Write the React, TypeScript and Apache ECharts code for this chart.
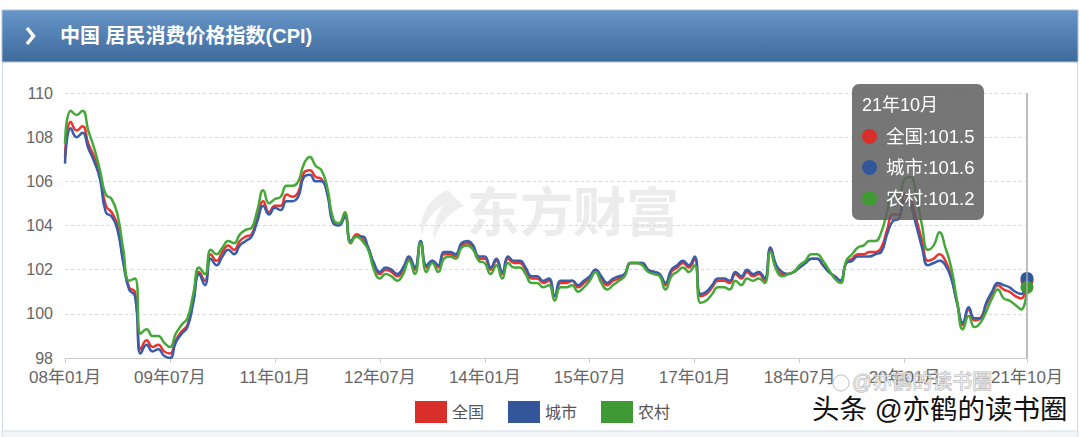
import React, { useEffect, useRef } from "react";
import * as echarts from "echarts";

// ---------- data ----------
const startYear = 2008;
const monthCount = 166; // 2008-01 .. 2021-10
const categories: string[] = [];
for (let i = 0; i < monthCount; i++) {
  const y = startYear + Math.floor(i / 12);
  const m = (i % 12) + 1;
  categories.push(`${String(y % 100).padStart(2, "0")}年${String(m).padStart(2, "0")}月`);
}

const seriesNames = ["全国", "城市", "农村"];

const national = [
  107.1, 108.7, 108.3, 108.5, 107.7, 107.1, 106.3, 104.9, 104.6, 104.0, 102.4, 101.2,
  101.0, 98.4, 98.8, 98.5, 98.6, 98.3, 98.2, 98.8, 99.2, 99.5, 100.6, 101.9,
  101.5, 102.7, 102.4, 102.8, 103.1, 102.9, 103.3, 103.5, 103.6, 104.4, 105.1, 104.6,
  104.9, 104.9, 105.4, 105.3, 105.5, 106.4, 106.5, 106.2, 106.1, 105.5, 104.2, 104.1,
  104.5, 103.2, 103.6, 103.4, 103.0, 102.2, 101.8, 102.0, 101.9, 101.7, 102.0, 102.5,
  102.0, 103.2, 102.1, 102.4, 102.1, 102.7, 102.7, 102.6, 103.1, 103.2, 103.0, 102.5,
  102.5, 102.0, 102.4, 101.8, 102.5, 102.3, 102.3, 102.0, 101.6, 101.6, 101.4, 101.5,
  100.8, 101.4, 101.4, 101.5, 101.2, 101.4, 101.6, 102.0, 101.6, 101.3, 101.5, 101.6,
  101.8, 102.3, 102.3, 102.3, 102.0, 101.9, 101.8, 101.3, 101.9, 102.1, 102.3, 102.1,
  102.5, 100.8, 100.9, 101.2, 101.5, 101.5, 101.4, 101.8, 101.6, 101.9, 101.7, 101.8,
  101.5, 102.9, 102.1, 101.8, 101.8, 101.9, 102.1, 102.3, 102.5, 102.5, 102.2, 101.9,
  101.7, 101.5, 102.3, 102.5, 102.7, 102.7, 102.8, 102.8, 103.0, 103.8, 104.5, 104.5,
  105.4, 105.2, 104.3, 103.3, 102.4, 102.5, 102.7, 102.4, 101.7, 100.5, 99.5, 100.2,
  99.7, 99.8, 100.4, 100.9, 101.3, 101.1, 101.0, 100.8, 100.7, 101.5,
];

const urban = [
  106.8, 108.4, 108.0, 108.2, 107.5, 106.9, 106.1, 104.6, 104.4, 103.8, 102.3, 101.1,
  100.8, 98.2, 98.6, 98.3, 98.4, 98.1, 98.0, 98.7, 99.1, 99.4, 100.5, 101.8,
  101.3, 102.5, 102.2, 102.6, 102.9, 102.7, 103.1, 103.3, 103.5, 104.2, 104.9, 104.5,
  104.8, 104.7, 105.1, 105.1, 105.3, 106.2, 106.3, 106.0, 106.0, 105.4, 104.1, 104.0,
  104.4, 103.3, 103.5, 103.5, 103.0, 102.3, 101.9, 102.1, 102.0, 101.8, 102.1, 102.6,
  102.1, 103.3, 102.2, 102.4, 102.2, 102.8, 102.8, 102.7, 103.2, 103.3, 103.1, 102.6,
  102.6, 102.1, 102.5, 101.9, 102.6, 102.4, 102.4, 102.1, 101.7, 101.7, 101.5, 101.6,
  100.8, 101.5, 101.5, 101.5, 101.3, 101.5, 101.7, 102.0, 101.7, 101.4, 101.6, 101.7,
  101.8, 102.3, 102.3, 102.3, 102.0, 101.9, 101.8, 101.4, 102.0, 102.2, 102.4, 102.2,
  102.6, 100.9, 101.0, 101.3, 101.6, 101.6, 101.5, 101.9, 101.7, 102.0, 101.8, 101.9,
  101.6, 103.0, 102.2, 101.9, 101.8, 101.9, 102.1, 102.3, 102.5, 102.5, 102.2, 101.9,
  101.7, 101.5, 102.3, 102.4, 102.6, 102.6, 102.6, 102.7, 102.8, 103.6, 104.2, 104.3,
  105.1, 104.9, 104.0, 103.0, 102.2, 102.3, 102.4, 102.2, 101.6, 100.5, 99.6, 100.3,
  99.8, 99.8, 100.5, 101.0, 101.4, 101.3, 101.2, 101.0, 100.9, 101.6,
];

const rural = [
  107.7, 109.2, 109.0, 109.2, 108.3, 107.5, 106.5, 105.4, 105.2, 104.5, 102.9, 101.5,
  101.6, 99.1, 99.3, 99.0, 99.0, 98.7, 98.5, 99.1, 99.5, 99.8, 100.9, 102.1,
  101.8, 102.9, 102.7, 103.0, 103.3, 103.2, 103.6, 103.8, 103.9, 104.7, 105.6, 105.0,
  105.2, 105.3, 105.8, 105.8, 106.0, 106.8, 107.1, 106.7, 106.5, 105.7, 104.3, 104.1,
  104.6, 103.2, 103.5, 103.3, 102.9, 102.0, 101.6, 101.8, 101.7, 101.5, 101.8, 102.4,
  101.8, 103.2, 101.9, 102.3, 101.9, 102.5, 102.6, 102.5, 103.0, 103.1, 102.9, 102.4,
  102.3, 101.8, 102.2, 101.6, 102.3, 102.1, 102.1, 101.8, 101.4, 101.4, 101.2, 101.3,
  100.6, 101.2, 101.2, 101.3, 101.0, 101.2, 101.5, 101.9, 101.4, 101.1, 101.3, 101.5,
  101.7, 102.3, 102.3, 102.2, 101.9, 101.8, 101.7, 101.1, 101.7, 101.9, 102.1, 101.9,
  102.2, 100.5, 100.6, 100.9, 101.2, 101.2, 101.1, 101.5, 101.3, 101.6, 101.5, 101.6,
  101.4, 102.8, 102.0, 101.7, 101.8, 101.9, 102.2, 102.4, 102.7, 102.7, 102.4, 102.0,
  101.6, 101.4, 102.4, 102.7, 103.0, 103.1, 103.3, 103.3, 103.7, 104.6, 105.5, 105.3,
  106.1, 106.2, 105.4, 104.0, 102.9, 103.1, 103.7, 103.0, 102.1, 100.6, 99.3, 99.9,
  99.4, 99.6, 100.1, 100.7, 101.1, 100.7, 100.6, 100.4, 100.2, 101.2,
];

const yTicks = { min: 98, max: 110, interval: 2 };
const titleText = "中国 居民消费价格指数(CPI)";
const watermarkText = "东方财富";
const signatureText = "头条 @亦鹤的读书圈";
const faintSignature = "@亦鹤的读书圈";

const colors = ["#d92e29", "#33569a", "#3f9a34"];
const FONT = '"Liberation Sans", "Noto Sans CJK SC", sans-serif';

let shapeRegistered = false;
function registerLogo() {
  if (shapeRegistered) return;
  shapeRegistered = true;
  echarts.graphic.registerShape(
    "emLogo",
    (echarts.graphic as any).extendPath(
      "M34 0 C16 8 4 24 8 46 C10 34 18 22 30 14 C22 26 18 38 20 50 C26 32 38 20 50 16 C44 10 38 6 34 0 Z",
      {}
    )
  );
}

export default function App() {
  const ref = useRef<HTMLDivElement>(null);

  useEffect(() => {
    if (!ref.current) return;
    document.body.style.margin = "0";
    registerLogo();
    const chart = echarts.init(ref.current, undefined, { renderer: "svg" });
    const lastIdx = monthCount - 1;
    const showIdx = (i: number) => (i % 18 === 0 && i <= 144) || i === lastIdx;
    const datasets = [national, urban, rural];

    chart.setOption({
      animation: false,
      backgroundColor: "#ffffff",
      textStyle: { fontFamily: FONT },
      grid: { left: 65, right: 53, top: 93, bottom: 79, containLabel: false },
      legend: {
        data: seriesNames,
        left: 410,
        top: 396,
        icon: "rect",
        itemWidth: 32,
        itemHeight: 22,
        itemGap: 24,
        textStyle: { fontSize: 16, color: "#555", fontFamily: FONT },
      },
      tooltip: {
        trigger: "axis",
        triggerOn: "none",
        alwaysShowContent: true,
        position: [852, 84],
        backgroundColor: "rgba(96,96,96,0.86)",
        borderWidth: 0,
        padding: [6, 10],
        extraCssText: "box-shadow:none;border-radius:7px;",
        textStyle: { color: "#fff", fontSize: 18, fontFamily: FONT },
        axisPointer: {
          type: "line",
          lineStyle: { color: "#a8a8a8", width: 1.5, type: "solid" },
        },
        formatter: (params: any) => {
          const ps = Array.isArray(params) ? params : [params];
          let s = `<div style="line-height:31px;font-size:18px">${ps[0].axisValue}</div>`;
          ps.forEach((p: any) => {
            s += `<div style="line-height:31px;font-size:18.5px;white-space:nowrap"><span style="display:inline-block;width:15px;height:15px;border-radius:8px;background:${p.color};margin-right:9px;vertical-align:-1px"></span>${p.seriesName}:${p.value}</div>`;
          });
          return s;
        },
      },
      xAxis: {
        type: "category",
        data: categories,
        boundaryGap: false,
        axisLine: { lineStyle: { color: "#cccccc", width: 1 } },
        axisTick: { interval: showIdx, length: 5, lineStyle: { color: "#cccccc" } },
        axisLabel: {
          interval: showIdx,
          color: "#666",
          fontSize: 17,
          margin: 11,
          fontFamily: FONT,
        },
        splitLine: { show: false },
      },
      yAxis: {
        type: "value",
        min: yTicks.min,
        max: yTicks.max,
        interval: yTicks.interval,
        axisLine: { show: false },
        axisTick: { show: false },
        axisLabel: { color: "#666", fontSize: 16, margin: 12, fontFamily: FONT },
        splitLine: { lineStyle: { color: "#d8d8d8", type: [3, 3], width: 1 } },
      },
      series: seriesNames.map((name, k) => ({
        name,
        type: "line",
        data: datasets[k],
        smooth: true,
        showSymbol: false,
        symbol: "circle",
        symbolSize: 13,
        color: colors[k],
        lineStyle: { width: 2.5, color: colors[k] },
        itemStyle: { color: colors[k] },
        emphasis: { scale: false, lineStyle: { width: 2.5 } },
        z: 3 + k,
      })),
      graphic: [
        {
          type: "rect",
          shape: { x: 2, y: 10, width: 1076, height: 52 },
          style: {
            fill: {
              type: "linear",
              x: 0,
              y: 0,
              x2: 0,
              y2: 1,
              colorStops: [
                { offset: 0, color: "#6795c8" },
                { offset: 1, color: "#3e6a9c" },
              ],
            } as any,
            stroke: "#aebfd3",
            lineWidth: 1,
          },
          z: 1,
        },
        {
          type: "polyline",
          shape: { points: [[27, 28], [33.5, 36], [27, 44]] },
          style: { stroke: "#ffffff", lineWidth: 3.5, fill: null },
          z: 2,
        },
        {
          type: "text",
          x: 60,
          y: 36,
          style: {
            text: titleText,
            fill: "#ffffff",
            fontSize: 20,
            fontWeight: "bold",
            fontFamily: FONT,
            verticalAlign: "middle",
          },
          z: 2,
        },
        {
          type: "line",
          shape: { x1: 2.5, y1: 62, x2: 2.5, y2: 431 },
          style: { stroke: "#cddae6", lineWidth: 1 },
        },
        {
          type: "line",
          shape: { x1: 1077.5, y1: 62, x2: 1077.5, y2: 431 },
          style: { stroke: "#cddae6", lineWidth: 1 },
        },
        {
          type: "rect",
          shape: { x: 2, y: 431, width: 1076, height: 8 },
          style: { fill: "#f3f6f9", stroke: "#d5dee8", lineWidth: 1 },
        },
        {
          type: "emLogo",
          x: 414,
          y: 190,
          scaleX: 1,
          scaleY: 1,
          style: { fill: "#eeeeee" },
          z: 0,
        },
        {
          type: "text",
          x: 467,
          y: 213,
          style: {
            text: watermarkText,
            fill: "#ececec",
            fontSize: 53,
            fontWeight: "bold",
            fontFamily: FONT,
            verticalAlign: "middle",
          },
          z: 0,
        },
        {
          type: "text",
          x: 852,
          y: 382,
          style: {
            text: faintSignature,
            fill: "rgba(255,255,255,0.55)",
            stroke: "rgba(150,150,150,0.7)",
            lineWidth: 1,
            fontSize: 20,
            fontFamily: FONT,
            verticalAlign: "middle",
          },
          z: 10,
        },
        {
          type: "circle",
          shape: { cx: 841, cy: 383, r: 8 },
          style: { fill: "none", stroke: "rgba(150,150,150,0.6)", lineWidth: 1 },
          z: 10,
        },
        {
          type: "text",
          x: 812,
          y: 409,
          style: {
            text: signatureText,
            fill: "#111111",
            stroke: "#ffffff",
            lineWidth: 3,
            fontSize: 27.5,
            fontFamily: FONT,
            verticalAlign: "middle",
          },
          z: 10,
        },
      ],
    });

    chart.dispatchAction({ type: "showTip", seriesIndex: 0, dataIndex: lastIdx });

    return () => chart.dispose();
  }, []);

  return (
    <div style={{ position: "fixed", left: 0, top: 0, width: 1080, height: 437 }}>
      <div ref={ref} style={{ width: 1080, height: 437 }} />
    </div>
  );
}
